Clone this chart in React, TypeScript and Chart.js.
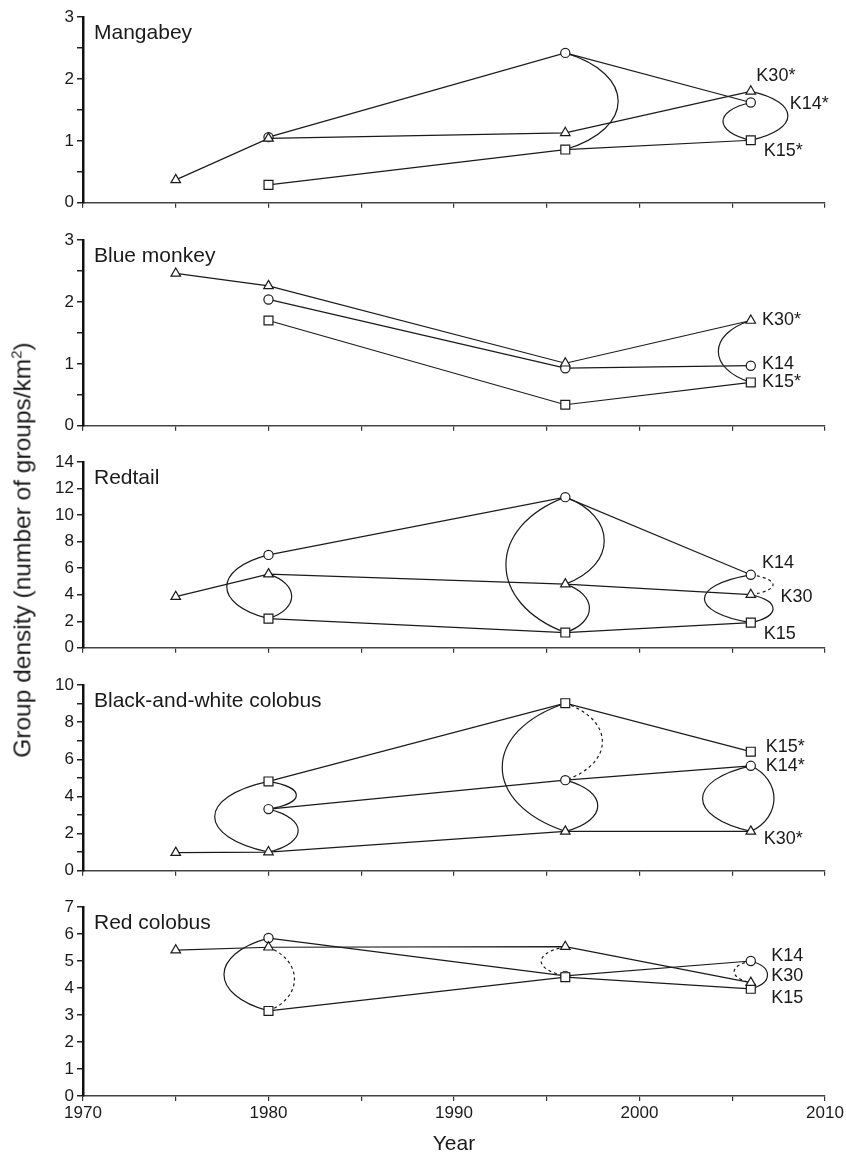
import React, { useEffect, useRef } from 'react';
import { Chart, registerables } from 'chart.js';

Chart.register(...registerables);

const FONT = '"Liberation Sans", Arial, Helvetica, sans-serif';
const INK = '#1a1a1a';

// ---------- data ----------
const YEARS_K30 = [1975, 1980, 1996, 2006];
const YEARS_K14 = [1980, 1996, 2006];
const YEARS_K15 = [1980, 1996, 2006];

const X_MIN = 1970;
const X_MAX = 2010;
const X_STEP = 5;

const PANEL_NAMES = ['Mangabey', 'Blue monkey', 'Redtail', 'Black-and-white colobus', 'Red colobus'];
const Y_MAX = [3, 3, 14, 10, 7];
const Y_STEP = [0.5, 0.5, 2, 1, 1];
const Y_LABEL_EVERY = [1, 1, 2, 2, 1];

const mangabeyK14 = [1.06, 2.42, 1.62];
const mangabeyK15 = [0.29, 0.86, 1.01];
const mangabeyK30 = [0.37, 1.04, 1.13, 1.8];

const blueK14 = [2.04, 0.93, 0.97];
const blueK15 = [1.7, 0.34, 0.7];
const blueK30 = [2.46, 2.26, 1.01, 1.7];

const redtailK14 = [7.0, 11.35, 5.5];
const redtailK15 = [2.2, 1.15, 1.9];
const redtailK30 = [3.85, 5.55, 4.8, 4.0];

const bwK14 = [3.32, 4.88, 5.65];
const bwK15 = [4.81, 9.02, 6.41];
const bwK30 = [0.98, 1.01, 2.12, 2.12];

const redColK14 = [5.85, 4.45, 5.0];
const redColK15 = [3.15, 4.4, 3.97];
const redColK30 = [5.4, 5.51, 5.53, 4.2];

const SERIES = [
  { K14: mangabeyK14, K15: mangabeyK15, K30: mangabeyK30 },
  { K14: blueK14, K15: blueK15, K30: blueK30 },
  { K14: redtailK14, K15: redtailK15, K30: redtailK30 },
  { K14: bwK14, K15: bwK15, K30: bwK30 },
  { K14: redColK14, K15: redColK15, K30: redColK30 },
];

const YEARS: Record<string, number[]> = { K14: YEARS_K14, K15: YEARS_K15, K30: YEARS_K30 };

// significance arcs: [year, series A, series B, bulge (years, + right / - left), dashed]
const mangabeyArcs = [
  [1996, 'K14', 'K15', 2.85, false],
  [2006, 'K30', 'K15', 2.0, false],
  [2006, 'K14', 'K15', -1.5, false],
];
const blueArcs = [[2006, 'K30', 'K15', -1.75, false]];
const redtailArcs = [
  [1980, 'K14', 'K15', -2.25, false],
  [1980, 'K30', 'K15', 1.25, false],
  [1996, 'K14', 'K15', -3.2, false],
  [1996, 'K14', 'K30', 2.1, false],
  [1996, 'K30', 'K15', 1.3, false],
  [2006, 'K14', 'K30', 1.2, true],
  [2006, 'K14', 'K15', -2.5, false],
  [2006, 'K30', 'K15', 1.2, false],
];
const bwArcs = [
  [1980, 'K15', 'K30', -2.9, false],
  [1980, 'K15', 'K14', 1.5, false],
  [1980, 'K14', 'K30', 1.6, false],
  [1996, 'K15', 'K30', -3.4, false],
  [1996, 'K15', 'K14', 2.0, true],
  [1996, 'K14', 'K30', 1.75, false],
  [2006, 'K14', 'K30', -2.6, false],
  [2006, 'K14', 'K30', 1.25, false],
];
const redColArcs = [
  [1980, 'K14', 'K15', -2.4, false],
  [1980, 'K30', 'K15', 1.4, true],
  [1996, 'K30', 'K14', -1.3, true],
  [2006, 'K14', 'K15', 0.9, false],
  [2006, 'K14', 'K30', -0.9, true],
];
const ARCS = [mangabeyArcs, blueArcs, redtailArcs, bwArcs, redColArcs];

// site labels: [text, year, value]
const mangabeyLabels = [['K30*', 2006.3, 2.04], ['K14*', 2008.1, 1.6], ['K15*', 2006.7, 0.84]];
const blueLabels = [['K30*', 2006.6, 1.7], ['K14', 2006.6, 0.99], ['K15*', 2006.6, 0.7]];
const redtailLabels = [['K14', 2006.6, 6.4], ['K30', 2007.6, 3.8], ['K15', 2006.7, 1.05]];
const bwLabels = [['K15*', 2006.8, 6.66], ['K14*', 2006.8, 5.65], ['K30*', 2006.7, 1.69]];
const redColLabels = [['K14', 2007.1, 5.2], ['K30', 2007.1, 4.44], ['K15', 2007.1, 3.64]];
const LABELS = [mangabeyLabels, blueLabels, redtailLabels, bwLabels, redColLabels];

// ---------- layout ----------
const PLOT_LEFT = 83;
const PLOT_RIGHT = 825;
const FIRST_TOP = 17;
const PLOT_H = 189;
const PITCH = 222.5;
const TOP_PAD = 14;

const decorPlugin = {
  id: 'decor',
  beforeDatasetsDraw(chart: any) {
    const idx = chart.options.plugins.decor.idx;
    const { ctx, scales } = chart;
    const xs = scales.x;
    const ys = scales.y;
    const s: any = SERIES[idx];
    ctx.save();
    ctx.strokeStyle = INK;
    ctx.lineWidth = 1.2;
    for (const arc of ARCS[idx] as any[]) {
      const [year, a, b, bulge, dashed] = arc;
      const va = s[a][YEARS[a].indexOf(year)];
      const vb = s[b][YEARS[b].indexOf(year)];
      const px = xs.getPixelForValue(year);
      const ya = ys.getPixelForValue(va);
      const yb = ys.getPixelForValue(vb);
      const bx = xs.getPixelForValue(year + bulge) - px;
      const k = 4 / 3;
      const c = 0.22 * (yb - ya);
      ctx.setLineDash(dashed ? [3, 3] : []);
      ctx.beginPath();
      ctx.moveTo(px, ya);
      ctx.bezierCurveTo(px + k * bx, ya + c, px + k * bx, yb - c, px, yb);
      ctx.stroke();
    }
    ctx.restore();
  },
  afterDraw(chart: any) {
    const idx = chart.options.plugins.decor.idx;
    const { ctx, scales, chartArea } = chart;
    ctx.save();
    ctx.fillStyle = INK;
    ctx.textBaseline = 'middle';
    ctx.textAlign = 'left';
    ctx.font = `21px ${FONT}`;
    ctx.fillText(PANEL_NAMES[idx], chartArea.left + 11, chartArea.top + 16);
    ctx.font = `18px ${FONT}`;
    for (const [text, x, y] of LABELS[idx] as any[]) {
      ctx.fillText(text, scales.x.getPixelForValue(x), scales.y.getPixelForValue(y));
    }
    ctx.restore();
  },
};

function makeDataset(name: string, values: number[], style: string, radius: number) {
  return {
    label: name,
    data: YEARS[name].map((yr, i) => ({ x: yr, y: values[i] })),
    showLine: true,
    borderColor: INK,
    borderWidth: 1.2,
    tension: 0,
    pointStyle: style,
    pointRadius: radius,
    pointBackgroundColor: '#fff',
    pointBorderColor: INK,
    pointBorderWidth: 1.2,
    clip: false,
  };
}

function Panel({ idx }: { idx: number }) {
  const ref = useRef<HTMLCanvasElement>(null);
  const isBottom = idx === 4;
  const plotTop = FIRST_TOP + PITCH * idx;
  const bottomExtra = isBottom ? 61 : 10;
  const height = Math.round(TOP_PAD + PLOT_H + bottomExtra);
  const top = Math.round(plotTop - TOP_PAD);

  useEffect(() => {
    const s: any = SERIES[idx];
    const chart = new Chart(ref.current as HTMLCanvasElement, {
      type: 'scatter',
      data: {
        datasets: [
          makeDataset('K30', s.K30, 'triangle', 5.5),
          makeDataset('K15', s.K15, 'rect', 6.3),
          makeDataset('K14', s.K14, 'circle', 4.6),
        ],
      },
      options: {
        responsive: false,
        animation: false,
        layout: {
          autoPadding: false,
          padding: { top: TOP_PAD, left: PLOT_LEFT - 43, right: 846 - PLOT_RIGHT, bottom: 0 },
        },
        plugins: {
          legend: { display: false },
          tooltip: { enabled: false },
          decor: { idx },
        } as any,
        scales: {
          x: {
            type: 'linear',
            min: X_MIN,
            max: X_MAX,
            ticks: {
              stepSize: X_STEP,
              autoSkip: false,
              maxRotation: 0,
              padding: 2,
              color: INK,
              font: { family: FONT, size: 17 },
              callback: (v: any) => (isBottom && v % 10 === 0 ? String(v) : ''),
            },
            grid: { drawOnChartArea: false, drawTicks: true, tickLength: 5, color: '#333', lineWidth: 1.2 },
            border: { display: true, color: '#444', width: 1.5 },
            title: {
              display: isBottom,
              text: 'Year',
              color: INK,
              font: { family: FONT, size: 21 },
              padding: { top: 8, bottom: 0 },
            },
            afterFit: (sc: any) => {
              sc.height = bottomExtra;
            },
          },
          y: {
            type: 'linear',
            min: 0,
            max: Y_MAX[idx],
            ticks: {
              stepSize: Y_STEP[idx],
              autoSkip: false,
              padding: 3,
              color: INK,
              font: { family: FONT, size: 17 },
              callback: (v: any) => (Math.abs(v / Y_LABEL_EVERY[idx] - Math.round(v / Y_LABEL_EVERY[idx])) < 1e-6 ? String(v) : ''),
            },
            grid: { drawOnChartArea: false, drawTicks: true, tickLength: 6, color: '#222', lineWidth: 1.5 },
            border: { display: true, color: '#111', width: 2.5 },
            afterFit: (sc: any) => {
              sc.width = 43;
            },
          },
        },
      } as any,
      plugins: [decorPlugin],
    });
    return () => chart.destroy();
  }, [idx]);

  return (
    <canvas
      ref={ref}
      width={846}
      height={height}
      style={{ position: 'absolute', left: 0, top, width: 846, height }}
    />
  );
}

export default function App() {
  return (
    <div style={{ position: 'absolute', left: 0, top: 0, width: 846, height: 1157, background: '#fff', overflow: 'hidden' }}>
      {PANEL_NAMES.map((_, i) => (
        <Panel key={i} idx={i} />
      ))}
      <div
        style={{
          position: 'absolute',
          left: 22,
          top: 550,
          transform: 'translate(-50%, -50%) rotate(-90deg)',
          whiteSpace: 'nowrap',
          fontFamily: FONT,
          fontSize: 24.5,
          color: INK,
        }}
      >
        Group density (number of groups/km<sup style={{ fontSize: 15 }}>2</sup>)
      </div>
    </div>
  );
}
